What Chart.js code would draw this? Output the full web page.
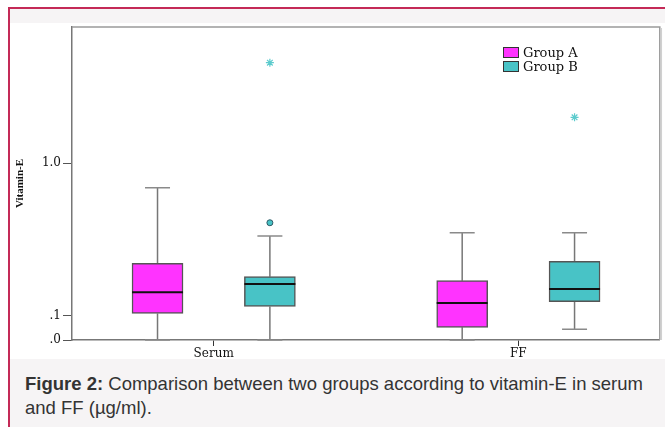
<!DOCTYPE html>
<html>
<head>
<meta charset="utf-8">
<script src="https://cdn.jsdelivr.net/npm/chart.js@4.4.1/dist/chart.umd.min.js"></script>
<style>
	body { margin: 0; width: 665px; height: 427px; overflow: hidden; background: #fff; position: relative; }
	#card { position: absolute; left: 8px; top: 7px; width: 657px; height: 420px; background: #f6f4f5; border-left: 2px solid #c42a57; border-top: 2px solid #c42a57; }
	#panel { position: absolute; left: 10px; top: 23px; width: 655px; height: 336px; background: #fff; }
	#chart-wrap { position: absolute; left: 0; top: 0; width: 665px; height: 360px; }
	#legend { position: absolute; left: 503px; top: 46px; font: 13px "DejaVu Serif", serif; color: #111; }
	.item { height: 14px; line-height: 13px; white-space: nowrap; }
	.swatch { display: inline-block; width: 14px; height: 9px; border: 1px solid #333; vertical-align: -1px; margin-right: 4px; }
	#caption { position: absolute; left: 25px; top: 372px; width: 636px; font: 18.5px "Liberation Sans", Arial, sans-serif; line-height: 24px; color: #333; }
</style>
</head>
<body>
<div id="card"></div>
<div id="panel"></div>
<div id="chart-wrap"><canvas id="chart-box"></canvas></div>
<div id="legend">
	<div class="item"><span class="swatch" style="background:#ff33ff"></span>Group A</div>
	<div class="item"><span class="swatch" style="background:#48c3c6"></span>Group B</div>
</div>
<div id="caption"><b>Figure 2:</b> Comparison between two groups according to vitamin-E in serum and FF (µg/ml).</div>
<script>
const categories = ['Serum', 'FF'];
const groups = ['Group A', 'Group B'];

// box plot values (µg/ml)
const groupAMin = [0, 0];
const groupAQ1 = [0.110, 0.051];
const groupAMedian = [0.206, 0.156];
const groupAQ3 = [0.351, 0.262];
const groupAMax = [0.818, 0.523];

const groupBMin = [0, 0.043];
const groupBQ1 = [0.141, 0.162];
const groupBMedian = [0.246, 0.222];
const groupBQ3 = [0.282, 0.362];
const groupBMax = [0.504, 0.523];

const groupBOutliers = [0.584, null];
const groupBExtremes = [1.968, 1.395];

const yTicks = [0, 0.1, 1.0];
const yTickLabels = ['.0', '.1', '1.0'];
const yMaxValue = 2.414;

const colors = { a: '#ff33ff', b: '#48c3c6' };
const groupOffset = [-0.1844, 0.1844];

// the axis is drawn on a log(1 + x) scale
const tf = v => Math.log10(1 + v);

const stats = [
	{ min: groupAMin, q1: groupAQ1, med: groupAMedian, q3: groupAQ3, max: groupAMax },
	{ min: groupBMin, q1: groupBQ1, med: groupBMedian, q3: groupBQ3, max: groupBMax }
];

function boxData(g) {
	return categories.map((c, i) => ({ x: i + 1 + groupOffset[g], y: [tf(stats[g].q1[i]), tf(stats[g].q3[i])] }));
}

function pointData(values, g) {
	return values.map((v, i) => v === null ? null : { x: i + 1 + groupOffset[g], y: tf(v) }).filter(p => p);
}

const boxPlugin = {
	id: 'boxWhiskers',
	beforeDatasetsDraw(chart) {
		const { ctx, chartArea: a, scales: { x, y } } = chart;
		ctx.save();
		// frame round the plot
		ctx.strokeStyle = '#9a9a9a';
		ctx.lineWidth = 1.5;
		ctx.beginPath();
		ctx.moveTo(a.left, a.top);
		ctx.lineTo(a.right, a.top);
		ctx.lineTo(a.right, a.bottom);
		ctx.stroke();
		ctx.strokeStyle = '#d0d0d0';
		ctx.beginPath();
		ctx.moveTo(a.right + 1.5, a.top + 1);
		ctx.lineTo(a.right + 1.5, a.bottom);
		ctx.stroke();

		// whiskers and caps
		stats.forEach((s, g) => {
			categories.forEach((c, i) => {
				const px = x.getPixelForValue(i + 1 + groupOffset[g]);
				ctx.strokeStyle = '#777';
				ctx.lineWidth = 1.5;
				ctx.beginPath();
				ctx.moveTo(px, y.getPixelForValue(tf(s.q3[i])));
				ctx.lineTo(px, y.getPixelForValue(tf(s.max[i])));
				ctx.moveTo(px, y.getPixelForValue(tf(s.q1[i])));
				ctx.lineTo(px, y.getPixelForValue(tf(s.min[i])));
				ctx.stroke();
				ctx.strokeStyle = '#8a8a8a';
				ctx.beginPath();
				[s.max[i], s.min[i]].forEach(v => {
					const py = y.getPixelForValue(tf(v));
					ctx.moveTo(px - 12.5, py);
					ctx.lineTo(px + 12.5, py);
				});
				ctx.stroke();
			});
		});
		ctx.restore();
	},
	afterDatasetsDraw(chart) {
		const { ctx, scales: { x, y } } = chart;
		ctx.save();
		ctx.strokeStyle = '#111';
		ctx.lineWidth = 2;
		stats.forEach((s, g) => {
			const bars = chart.getDatasetMeta(g).data;
			categories.forEach((c, i) => {
				const bar = bars[i];
				const py = y.getPixelForValue(tf(s.med[i]));
				ctx.beginPath();
				ctx.moveTo(bar.x - bar.width / 2, py);
				ctx.lineTo(bar.x + bar.width / 2, py);
				ctx.stroke();
			});
		});
		ctx.restore();
	}
};

new Chart(document.getElementById('chart-box'), {
	type: 'bar',
	data: {
		datasets: [
			{ label: groups[0], data: boxData(0), backgroundColor: colors.a, borderColor: '#555', borderWidth: 1.5, borderSkipped: false, grouped: false, barThickness: 51 },
			{ label: groups[1], data: boxData(1), backgroundColor: colors.b, borderColor: '#555', borderWidth: 1.5, borderSkipped: false, grouped: false, barThickness: 51 },
			{ type: 'scatter', label: 'outliers', data: pointData(groupBOutliers, 1), pointStyle: 'circle', pointRadius: 3, backgroundColor: colors.b, borderColor: '#2d5a66', borderWidth: 1 },
			{ type: 'scatter', label: 'extremes', data: pointData(groupBExtremes, 1), pointStyle: 'star', pointRadius: 4, backgroundColor: colors.b, borderColor: '#5ccbcd', borderWidth: 1.2 }
		]
	},
	options: {
		responsive: true,
		maintainAspectRatio: false,
		animation: false,
		layout: { padding: { left: 0, top: 27, right: 4, bottom: 0 } },
		plugins: { legend: { display: false }, tooltip: { enabled: false } },
		scales: {
			x: {
				type: 'linear',
				offset: false,
				min: 0.5349,
				max: 2.4642,
				afterFit: s => { s.height = 20; },
				afterBuildTicks: s => { s.ticks = categories.map((c, i) => ({ value: i + 1 })); },
				ticks: {
					autoSkip: false,
					padding: 1,
					color: '#111',
					font: { family: 'DejaVu Serif', size: 12 },
					callback: v => categories[v - 1] || ''
				},
				grid: { offset: false, drawOnChartArea: false, tickLength: 6, color: '#333' },
				border: { display: true, color: '#777', width: 1.5 }
			},
			y: {
				min: 0,
				max: tf(yMaxValue),
				afterFit: s => { s.width = 72; },
				afterBuildTicks: s => { s.ticks = yTicks.map(v => ({ value: tf(v) })); },
				ticks: {
					autoSkip: false,
					padding: 2,
					color: '#111',
					font: { family: 'DejaVu Serif', size: 12 },
					callback: (v, i) => yTickLabels[i]
				},
				grid: { drawOnChartArea: false, tickLength: 9, color: '#555' },
				border: { display: true, color: '#777', width: 1.5 },
				title: {
					display: true,
					text: 'Vitamin-E',
					color: '#111',
					font: { family: 'Liberation Serif', size: 11, weight: 'bold' },
					padding: { top: 14, bottom: 0 }
				}
			}
		}
	},
	plugins: [boxPlugin]
});
</script>
</body>
</html>
